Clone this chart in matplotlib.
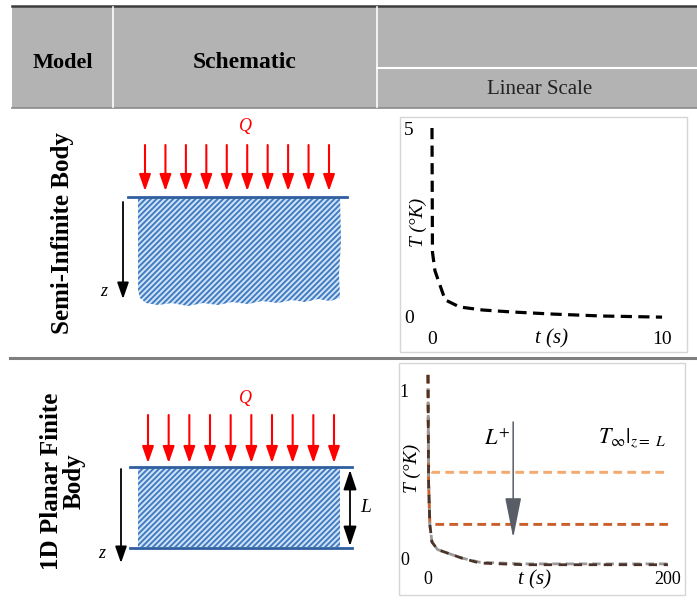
import matplotlib
matplotlib.use("Agg")
import matplotlib.pyplot as plt
from matplotlib.patches import Polygon, Rectangle

plt.rcParams["font.family"] = ["Liberation Serif", "DejaVu Serif"]
plt.rcParams["mathtext.fontset"] = "stix"
plt.rcParams["hatch.linewidth"] = 1.4

# ── Table text ────────────────────────────────────────────────────────────────
header_cols  = ["Model", "Schematic"]
scale_label  = "Linear Scale"
row_labels   = ["Semi-Infinite Body", "1D Planar Finite\nBody"]

# ── Semi-infinite body: surface temperature vs time ──
t_semi = [0.0, 0.02, 0.13, 0.57, 1.2, 2.2, 3.4, 5.3, 7.4, 10.0]
T_semi = [5.0, 1.70, 1.20, 0.43, 0.24, 0.16, 0.11, 0.05, 0.00, -0.03]

# ── 1D planar finite body: curves for increasing L ────────────────────────────
t_fin      = [0, 0.5, 1.5, 3.3, 8, 16, 28, 43, 80, 140, 200]
T_fin_base = [1.09, 0.45, 0.20, 0.095, 0.05, 0.03, 0.00, -0.03, -0.04, -0.04, -0.04]
T_fin_low  = [1.09, 0.45, 0.20, 0.095, 0.05, 0.03, 0.00, -0.025, -0.035, -0.035, -0.035]
T_fin_mid  = [1.09, 0.45, 0.21, 0.20, 0.20, 0.20, 0.20, 0.20, 0.20, 0.20, 0.20]
T_fin_high = [1.09, 0.55, 0.52, 0.51, 0.51, 0.51, 0.51, 0.51, 0.51, 0.51, 0.51]
L_arrow_t  = 71
L_arrow_T  = (0.81, 0.12)

W, H = 697, 603
fig = plt.figure(figsize=(W / 100, H / 100), dpi=100)
bg = fig.add_axes([0, 0, 1, 1])
bg.set_xlim(0, W)
bg.set_ylim(H, 0)
bg.axis("off")


def inset(x0, y0, x1, y1):
    # pixel box -> figure fraction
    ax = fig.add_axes([x0 / W, 1 - y1 / H, (x1 - x0) / W, (y1 - y0) / H])
    ax.patch.set_alpha(0)
    for s in ax.spines.values():
        s.set_visible(False)
    return ax


# ── Header ────────────────────────────────────────────────────────────────────
bg.add_patch(Rectangle((12, 6), W - 12, 102, fc="#b3b3b3", ec="none"))
bg.plot([12, W], [5.5, 5.5], color="#3c3c3c", lw=1.8)
bg.plot([12, W], [108, 108], color="#8a8a8a", lw=1.2)
bg.plot([113, 113], [7, 107], color="white", lw=1.2)
bg.plot([377, 377], [7, 107], color="white", lw=1.2)
bg.plot([377, W], [68, 68], color="white", lw=1.5)
bg.text(63, 63, header_cols[0], ha="center", va="center", fontsize=16, fontweight="bold")
bg.text(245, 63, header_cols[1], ha="center", va="center", fontsize=17, fontweight="bold")
bg.text(540, 89, scale_label, ha="center", va="center", fontsize=15, color="#222222")

# row separator
bg.plot([10, W], [358, 358], color="#7f7f7f", lw=2.2)

# row labels
bg.text(63, 233, row_labels[0], ha="center", va="center", rotation=90,
        fontsize=18, fontweight="bold")
bg.text(63, 481, row_labels[1], ha="center", va="center", rotation=90,
        fontsize=18, fontweight="bold", linespacing=1.0, multialignment="center")

# ── Schematics ────────────────────────────────────────────────────────────────
RED, BLUE_LINE, HATCH_FC, HATCH_EC = "#ff0000", "#2f5f9f", "#d3e3f4", "#3f7cc4"
red_arrow = dict(arrowstyle="-|>,head_length=1.0,head_width=0.35", color=RED,
                 lw=1.5, mutation_scale=10, shrinkA=0, shrinkB=0)
blk_arrow = dict(arrowstyle="-|>,head_length=1.0,head_width=0.35", color="black",
                 lw=1.3, mutation_scale=10, shrinkA=0, shrinkB=0)


def heat_arrows(x0, x1, ytop, ybot, n=10):
    step = (x1 - x0) / (n - 1)
    for i in range(n):
        x = x0 + i * step
        bg.annotate("", xy=(x, ybot), xytext=(x, ytop), arrowprops=red_arrow)


# semi-infinite body
semi_outline = [(138, 198), (340, 198), (341, 240), (339, 275), (340, 298),
                (330, 301), (318, 299), (305, 302), (292, 300), (278, 303),
                (262, 301), (248, 304), (232, 302), (218, 305), (203, 303),
                (188, 306), (172, 303), (158, 305), (146, 303), (140, 298),
                (138, 290)]
bg.add_patch(Polygon(semi_outline, closed=True, fc=HATCH_FC, ec=HATCH_EC,
                     hatch="//////", lw=0))
bg.plot([128, 347], [197, 197], color=BLUE_LINE, lw=2)
heat_arrows(145, 329, 145, 191)
bg.text(245, 127, "Q", ha="center", va="center", fontsize=13, style="italic", color=RED)
bg.annotate("", xy=(123, 299), xytext=(123, 202), arrowprops=blk_arrow)
bg.text(104, 292, "z", ha="center", va="center", fontsize=13, style="italic")

# finite body
bg.add_patch(Rectangle((138, 468), 202, 79, fc=HATCH_FC, ec=HATCH_EC, hatch="//////", lw=0))
bg.plot([130, 352], [467, 467], color=BLUE_LINE, lw=2)
bg.plot([130, 352], [548, 548], color=BLUE_LINE, lw=2)
heat_arrows(148, 334, 415, 463)
bg.text(245, 398, "Q", ha="center", va="center", fontsize=13, style="italic", color=RED)
bg.annotate("", xy=(121, 563), xytext=(121, 469), arrowprops=blk_arrow)
bg.text(102, 553, "z", ha="center", va="center", fontsize=13, style="italic")
bg.annotate("", xy=(350, 546), xytext=(350, 470),
            arrowprops=dict(arrowstyle="<|-|>,head_length=1.2,head_width=0.4", color="black",
                            lw=1.3, mutation_scale=10, shrinkA=0, shrinkB=0))
bg.text(366, 507, "L", ha="center", va="center", fontsize=14, style="italic")

# plot frames
bg.add_patch(Rectangle((400, 117), 287, 235, fc="white", ec="#d6d6d6", lw=1))
bg.add_patch(Rectangle((399, 363), 286, 232, fc="white", ec="#d6d6d6", lw=1))

# ── Plot 1: semi-infinite ─────────────────────────────────────────────────────
ax1 = inset(425, 120, 680, 325)
ax1.plot(t_semi, T_semi, color="black", lw=2.3, dashes=(3.5, 2.0))
ax1.set_xlim(-0.304, 10.78)
ax1.set_ylim(-0.239, 5.213)
ax1.set_xticks([0, 10])
ax1.set_yticks([0, 5])
ax1.tick_params(axis="x", length=0, labelsize=14, pad=4)
ax1.tick_params(axis="y", length=0, labelsize=14, pad=8)
bg.text(418, 222, "T (°K)", ha="center", va="center", rotation=90, fontsize=14, style="italic")
bg.text(552, 339, "t (s)", ha="center", va="center", fontsize=15, style="italic")

# ── Plot 2: finite body ───────────────────────────────────────────────────────
ax2 = inset(420, 368, 682, 570)
ax2.plot(t_fin, T_fin_high, color="#f4a96f", lw=2.1, dashes=(3, 1.8))
ax2.plot(t_fin, T_fin_mid, color="#c8612c", lw=2.1, dashes=(3, 1.8))
ax2.plot(t_fin, T_fin_low, color="#9a9a9a", lw=2.0, dashes=(3, 1.8))
ax2.plot(t_fin, T_fin_base, color="#4a3328", lw=2.0, dashes=(3, 2.4))
ax2.annotate("", xy=(L_arrow_t, L_arrow_T[1]), xytext=(L_arrow_t, L_arrow_T[0]),
             arrowprops=dict(arrowstyle="-|>,head_length=1.8,head_width=0.36",
                             color="#595e66", lw=1.1, mutation_scale=14,
                             shrinkA=0, shrinkB=0))
ax2.set_xlim(-6.67, 211.7)
ax2.set_ylim(-0.0714, 1.131)
ax2.set_xticks([0, 200])
ax2.set_yticks([0, 1])
ax2.tick_params(axis="x", length=0, labelsize=13, pad=1)
ax2.tick_params(axis="y", length=0, labelsize=13, pad=8)
bg.text(412, 468, "T (°K)", ha="center", va="center", rotation=90, fontsize=14, style="italic")
bg.text(535, 580, "t (s)", ha="center", va="center", fontsize=15, style="italic")
bg.text(497, 440, r"$L^{+}$", ha="center", va="center", fontsize=16)
bg.text(632, 438, r"$T_{\infty}|_{z=\ L}$", ha="center", va="center", fontsize=16)

fig.savefig("out.png", dpi=100)
plt.close(fig)
